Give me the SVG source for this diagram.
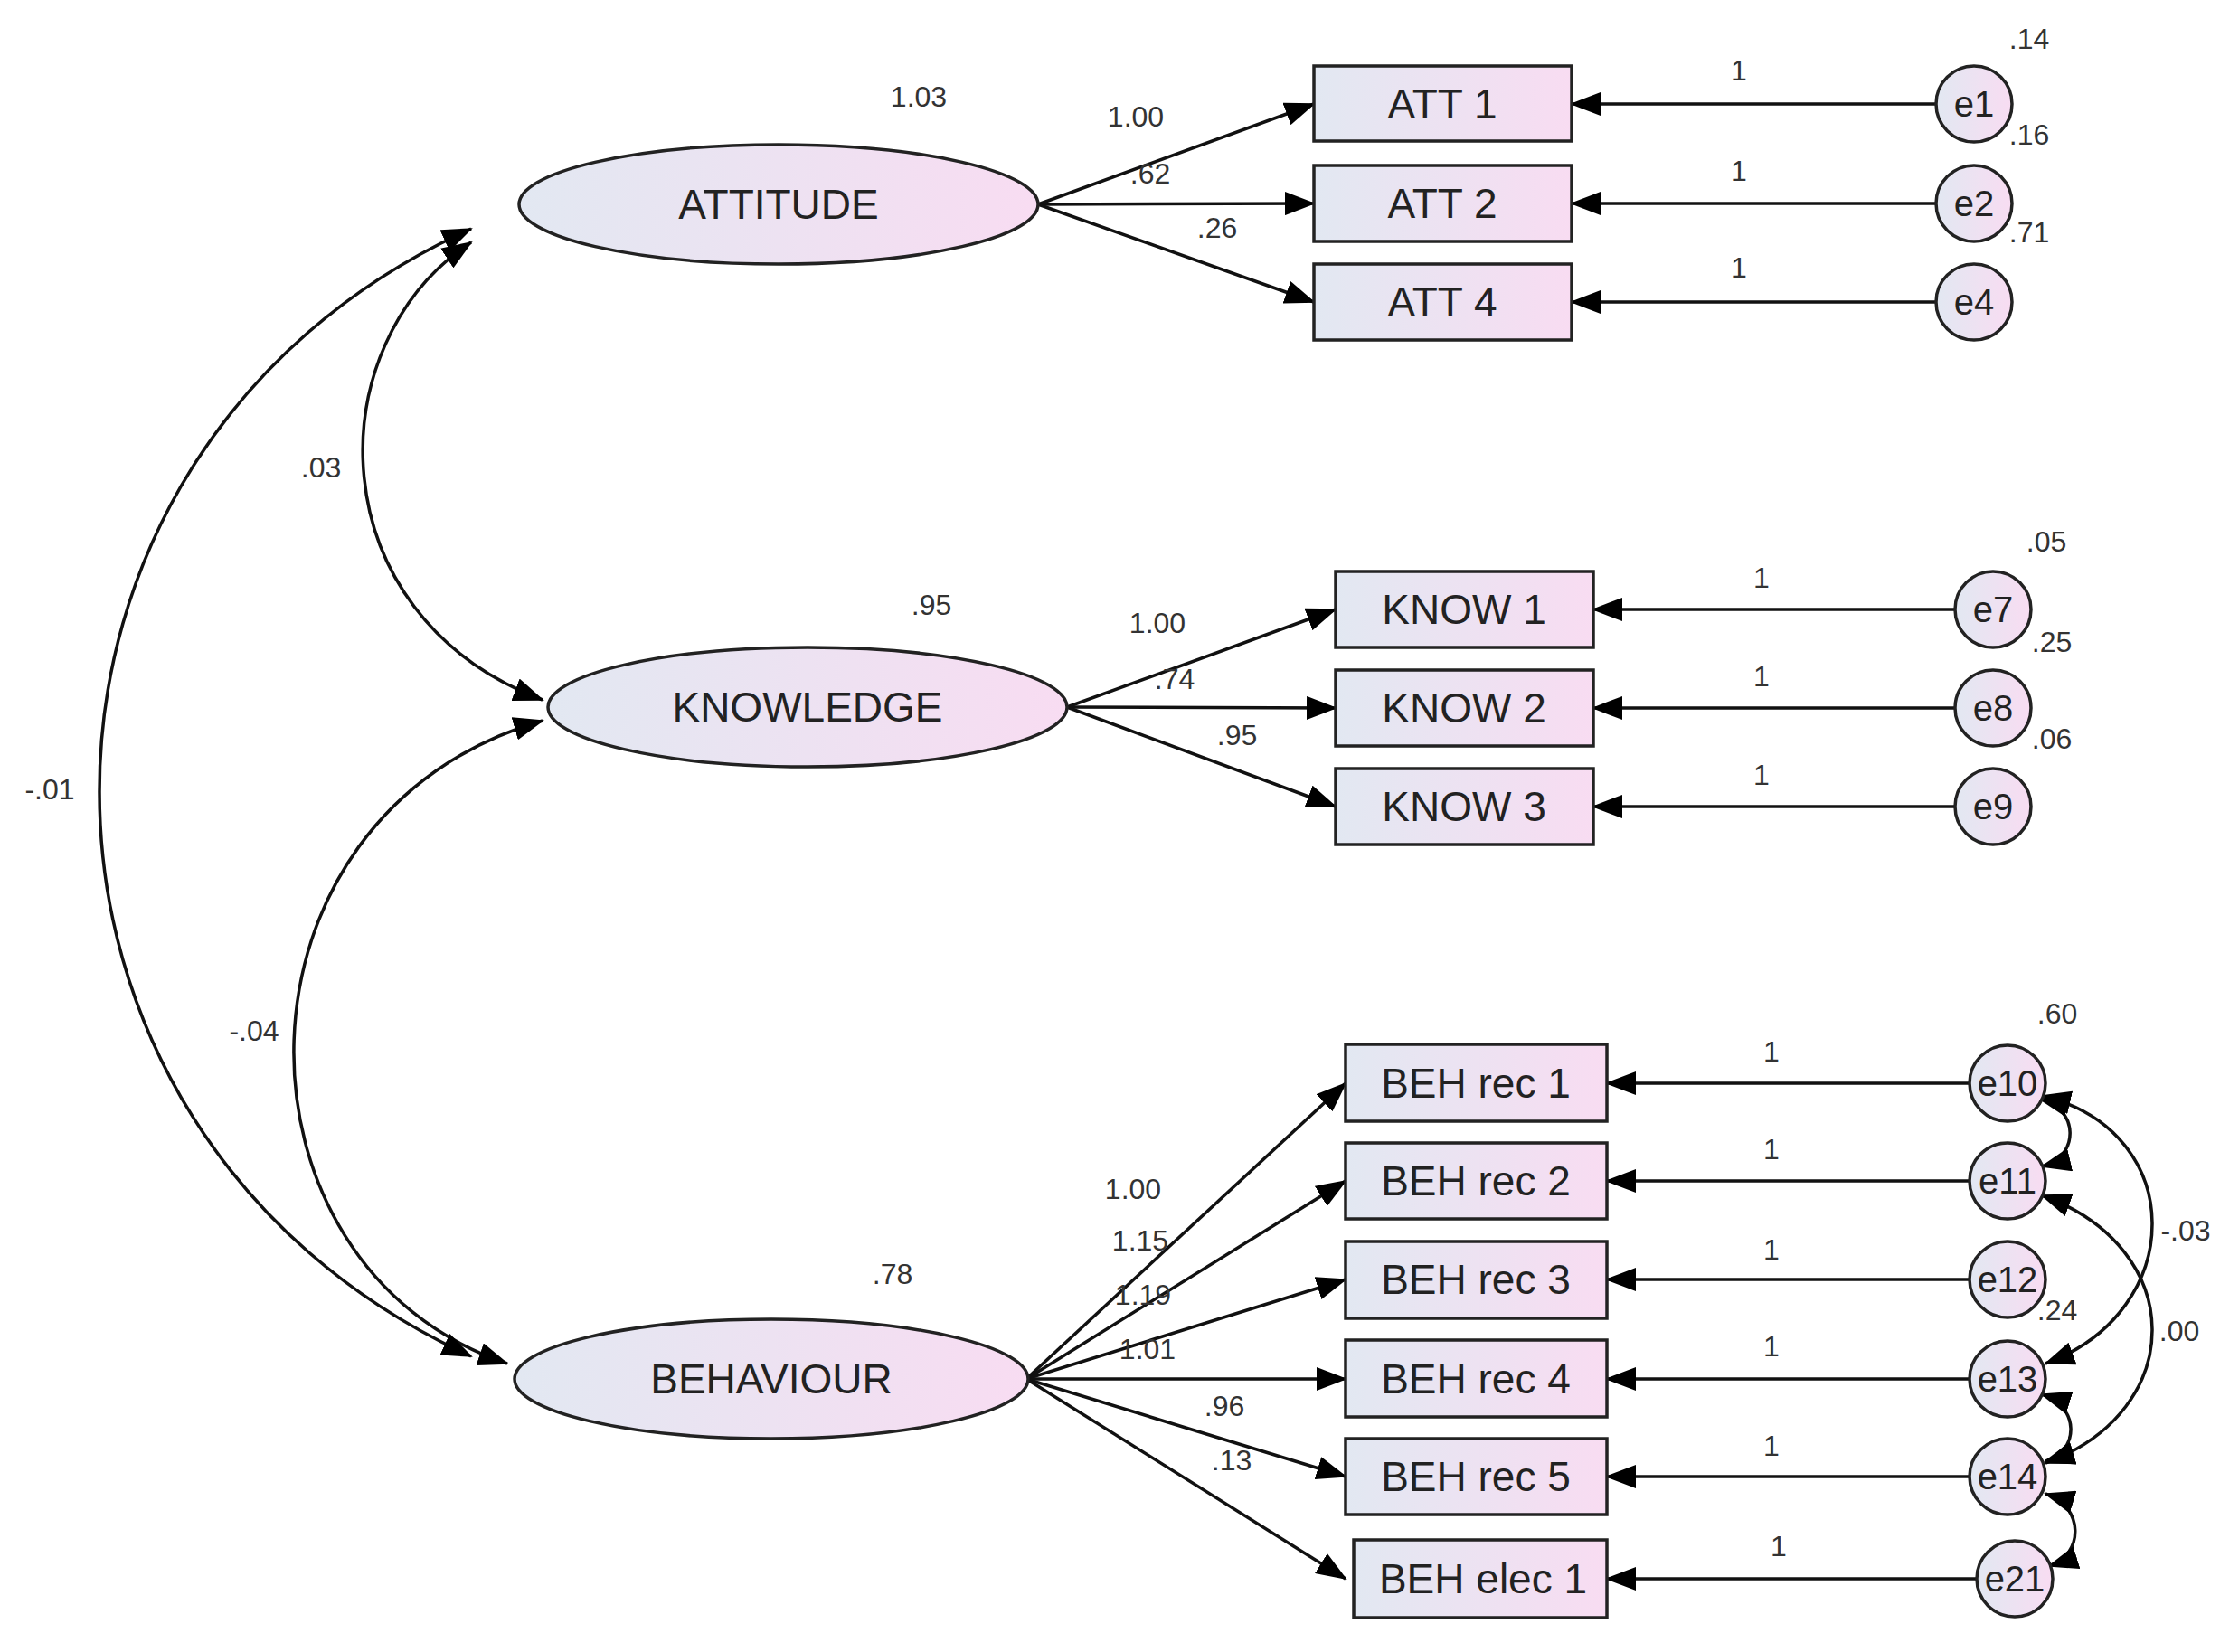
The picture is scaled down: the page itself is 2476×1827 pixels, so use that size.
<svg xmlns="http://www.w3.org/2000/svg" width="2476" height="1827" viewBox="0 0 2476 1827">
<defs>
<linearGradient id="g" x1="0" y1="0" x2="1" y2="0"><stop offset="0" stop-color="#e2e8f2"/><stop offset="1" stop-color="#f8dcf2"/></linearGradient>
<marker id="a" markerUnits="userSpaceOnUse" markerWidth="34" markerHeight="26" refX="32" refY="13" orient="auto-start-reverse"><path d="M0,0 L34,13 L0,26 Z" fill="#000"/></marker>
</defs>
<style>
.n{fill:url(#g);stroke:#222;stroke-width:3.5}
.t{font-family:"Liberation Sans",Arial,sans-serif;font-size:46px;fill:#222;text-anchor:middle;dominant-baseline:central}
.e{font-family:"Liberation Sans",Arial,sans-serif;font-size:40px;fill:#222;text-anchor:middle;dominant-baseline:central}
.l{font-family:"Liberation Sans",Arial,sans-serif;font-size:32px;fill:#333;text-anchor:middle}
.c{fill:none;stroke:#111;stroke-width:3.5}
</style>
<rect width="2476" height="1827" fill="#fff"/>
<g id="connectors" class="c">
<path d="M1148 226 L1453 115" marker-end="url(#a)"/>
<path d="M1148 226 L1453 225" marker-end="url(#a)"/>
<path d="M1148 226 L1453 334" marker-end="url(#a)"/>
<path d="M1180 782 L1477 674" marker-end="url(#a)"/>
<path d="M1180 782 L1477 783" marker-end="url(#a)"/>
<path d="M1180 782 L1477 892" marker-end="url(#a)"/>
<path d="M1135 1525 L1488 1198" marker-end="url(#a)"/>
<path d="M1135 1525 L1488 1306" marker-end="url(#a)"/>
<path d="M1135 1525 L1488 1415" marker-end="url(#a)"/>
<path d="M1135 1525 L1488 1525" marker-end="url(#a)"/>
<path d="M1135 1525 L1488 1633" marker-end="url(#a)"/>
<path d="M1135 1525 L1488 1746" marker-end="url(#a)"/>
<path d="M2141 115 L1738 115" marker-end="url(#a)"/>
<path d="M2141 225 L1738 225" marker-end="url(#a)"/>
<path d="M2141 334 L1738 334" marker-end="url(#a)"/>
<path d="M2162 674 L1762 674" marker-end="url(#a)"/>
<path d="M2162 783 L1762 783" marker-end="url(#a)"/>
<path d="M2162 892 L1762 892" marker-end="url(#a)"/>
<path d="M2178 1198 L1777 1198" marker-end="url(#a)"/>
<path d="M2178 1306 L1777 1306" marker-end="url(#a)"/>
<path d="M2178 1415 L1777 1415" marker-end="url(#a)"/>
<path d="M2178 1525 L1777 1525" marker-end="url(#a)"/>
<path d="M2178 1633 L1777 1633" marker-end="url(#a)"/>
<path d="M2186 1746 L1777 1746" marker-end="url(#a)"/>
<path d="M521 268 C350 380, 350 680, 600 774" marker-start="url(#a)" marker-end="url(#a)"/>
<path d="M600 797 C240 900, 240 1400, 561 1508" marker-start="url(#a)" marker-end="url(#a)"/>
<path d="M521 253 C-27 500, -27 1250, 521 1500" marker-start="url(#a)" marker-end="url(#a)"/>
<path d="M2255 1215 C2300 1225, 2300 1280, 2258 1290" marker-start="url(#a)" marker-end="url(#a)"/>
<path d="M2258 1212 C2420 1250, 2420 1450, 2262 1508" marker-start="url(#a)" marker-end="url(#a)"/>
<path d="M2258 1322 C2420 1380, 2420 1560, 2262 1618" marker-start="url(#a)" marker-end="url(#a)"/>
<path d="M2258 1542 C2300 1555, 2300 1605, 2262 1616" marker-start="url(#a)" marker-end="url(#a)"/>
<path d="M2262 1652 C2305 1665, 2305 1720, 2266 1732" marker-start="url(#a)" marker-end="url(#a)"/>
</g>
<g id="ATTITUDE"><ellipse class="n" cx="861" cy="226" rx="287" ry="66"/><text class="t" x="861" y="226">ATTITUDE</text></g>
<g id="KNOWLEDGE"><ellipse class="n" cx="893" cy="782" rx="287" ry="66"/><text class="t" x="893" y="782">KNOWLEDGE</text></g>
<g id="BEHAVIOUR"><ellipse class="n" cx="853" cy="1525" rx="284" ry="66"/><text class="t" x="853" y="1525">BEHAVIOUR</text></g>
<g id="ATT1"><rect class="n" x="1453" y="73" width="285" height="83"/><text class="t" x="1595" y="115">ATT 1</text></g>
<g id="ATT2"><rect class="n" x="1453" y="183" width="285" height="84"/><text class="t" x="1595" y="225">ATT 2</text></g>
<g id="ATT4"><rect class="n" x="1453" y="292" width="285" height="84"/><text class="t" x="1595" y="334">ATT 4</text></g>
<g id="KNOW1"><rect class="n" x="1477" y="632" width="285" height="84"/><text class="t" x="1619" y="674">KNOW 1</text></g>
<g id="KNOW2"><rect class="n" x="1477" y="741" width="285" height="84"/><text class="t" x="1619" y="783">KNOW 2</text></g>
<g id="KNOW3"><rect class="n" x="1477" y="850" width="285" height="84"/><text class="t" x="1619" y="892">KNOW 3</text></g>
<g id="BEH1"><rect class="n" x="1488" y="1155" width="289" height="85"/><text class="t" x="1632" y="1198">BEH rec 1</text></g>
<g id="BEH2"><rect class="n" x="1488" y="1264" width="289" height="84"/><text class="t" x="1632" y="1306">BEH rec 2</text></g>
<g id="BEH3"><rect class="n" x="1488" y="1373" width="289" height="85"/><text class="t" x="1632" y="1415">BEH rec 3</text></g>
<g id="BEH4"><rect class="n" x="1488" y="1482" width="289" height="85"/><text class="t" x="1632" y="1525">BEH rec 4</text></g>
<g id="BEH5"><rect class="n" x="1488" y="1591" width="289" height="84"/><text class="t" x="1632" y="1633">BEH rec 5</text></g>
<g id="BEHe1"><rect class="n" x="1497" y="1703" width="280" height="86"/><text class="t" x="1640" y="1746">BEH elec 1</text></g>
<g id="e1"><circle class="n" cx="2183" cy="115" r="42"/><text class="e" x="2183" y="115">e1</text></g>
<g id="e2"><circle class="n" cx="2183" cy="225" r="42"/><text class="e" x="2183" y="225">e2</text></g>
<g id="e4"><circle class="n" cx="2183" cy="334" r="42"/><text class="e" x="2183" y="334">e4</text></g>
<g id="e7"><circle class="n" cx="2204" cy="674" r="42"/><text class="e" x="2204" y="674">e7</text></g>
<g id="e8"><circle class="n" cx="2204" cy="783" r="42"/><text class="e" x="2204" y="783">e8</text></g>
<g id="e9"><circle class="n" cx="2204" cy="892" r="42"/><text class="e" x="2204" y="892">e9</text></g>
<g id="e10"><circle class="n" cx="2220" cy="1198" r="42"/><text class="e" x="2220" y="1198">e10</text></g>
<g id="e11"><circle class="n" cx="2220" cy="1306" r="42"/><text class="e" x="2220" y="1306">e11</text></g>
<g id="e12"><circle class="n" cx="2220" cy="1415" r="42"/><text class="e" x="2220" y="1415">e12</text></g>
<g id="e13"><circle class="n" cx="2220" cy="1525" r="42"/><text class="e" x="2220" y="1525">e13</text></g>
<g id="e14"><circle class="n" cx="2220" cy="1633" r="42"/><text class="e" x="2220" y="1633">e14</text></g>
<g id="e21"><circle class="n" cx="2228" cy="1746" r="42"/><text class="e" x="2228" y="1746">e21</text></g>
<g id="labels">
<text class="l" x="1016" y="118">1.03</text><text class="l" x="1030" y="680">.95</text><text class="l" x="987" y="1420">.78</text>
<text class="l" x="1256" y="140">1.00</text><text class="l" x="1272" y="203">.62</text><text class="l" x="1346" y="263">.26</text>
<text class="l" x="1280" y="700">1.00</text><text class="l" x="1299" y="762">.74</text><text class="l" x="1368" y="824">.95</text>
<text class="l" x="1253" y="1326">1.00</text><text class="l" x="1261" y="1383">1.15</text><text class="l" x="1264" y="1443">1.19</text><text class="l" x="1269" y="1503">1.01</text><text class="l" x="1354" y="1566">.96</text><text class="l" x="1362" y="1626">.13</text>
<text class="l" x="1923" y="89">1</text><text class="l" x="1923" y="200">1</text><text class="l" x="1923" y="307">1</text>
<text class="l" x="1948" y="650">1</text><text class="l" x="1948" y="759">1</text><text class="l" x="1948" y="868">1</text>
<text class="l" x="1959" y="1174">1</text><text class="l" x="1959" y="1282">1</text><text class="l" x="1959" y="1393">1</text><text class="l" x="1959" y="1500">1</text><text class="l" x="1959" y="1610">1</text><text class="l" x="1967" y="1721">1</text>
<text class="l" x="2244" y="54">.14</text><text class="l" x="2244" y="160">.16</text><text class="l" x="2244" y="268">.71</text>
<text class="l" x="2263" y="610">.05</text><text class="l" x="2269" y="721">.25</text><text class="l" x="2269" y="828">.06</text>
<text class="l" x="2275" y="1132">.60</text><text class="l" x="2275" y="1460">.24</text>
<text class="l" x="2417" y="1372">-.03</text><text class="l" x="2410" y="1483">.00</text>
<text class="l" x="355" y="528">.03</text><text class="l" x="55" y="884">-.01</text><text class="l" x="281" y="1151">-.04</text>
</g>
</svg>
